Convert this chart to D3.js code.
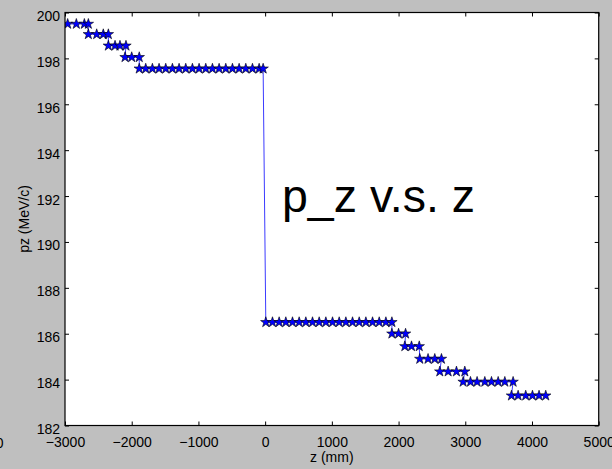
<!DOCTYPE html>
<html>
<head>
<meta charset="utf-8">
<script src="https://cdn.jsdelivr.net/npm/d3@7"></script>
<style>
  html, body { margin: 0; padding: 0; background: #bfbfbf; }
  svg { display: block; font-family: "Liberation Sans", Arial, Helvetica, sans-serif; }
</style>
</head>
<body>
<svg id="chart" width="612" height="469"></svg>
<script>
// pz level (MeV/c) of each step, and the z positions (mm) of the points on it
const pzLevels = [199.5, 199.05, 198.55, 198.05, 197.55, 186.5, 186.0, 185.45, 184.9, 184.35, 183.9, 183.3];
const zByLevel = [
  [-2960, -2830, -2710, -2650],
  [-2650, -2525, -2426, -2350],
  [-2350, -2250, -2176, -2086],
  [-2100, -2000, -1887],
  [-1887, -1790, -1690, -1590, -1490, -1390, -1290, -1190, -1090, -990, -890, -790, -690, -590, -490, -390, -290, -190, -90, -30],
  [10, 110, 210, 310, 410, 510, 610, 710, 810, 910, 1010, 1110, 1210, 1310, 1410, 1510, 1610, 1710, 1810, 1900],
  [1900, 2000, 2105],
  [2094, 2194, 2310],
  [2318, 2442, 2543, 2643],
  [2618, 2743, 2868, 2993],
  [2968, 3078, 3177, 3293, 3393, 3493, 3593, 3717],
  [3692, 3792, 3906, 4007, 4106, 4206]
];
const xTicks = [-3000, -2000, -1000, 0, 1000, 2000, 3000, 4000, 5000];
const yTicks = [182, 184, 186, 188, 190, 192, 194, 196, 198, 200];

const points = [];
zByLevel.forEach((zs, i) => zs.forEach(z => points.push({z: z, pz: pzLevels[i]})));

const svg = d3.select('#chart');
const pLeft = 65, pRight = 598.7, pTop = 12.5, pBottom = 425.5;

const x = d3.scaleLinear().domain([-3000, 5000]).range([pLeft, pRight]);
const y = d3.scaleLinear().domain([182, 200]).range([pBottom, pTop]);

// plot area
svg.append('rect')
  .attr('x', pLeft).attr('y', pTop)
  .attr('width', pRight - pLeft).attr('height', pBottom - pTop)
  .attr('fill', '#fff');

svg.append('clipPath').attr('id', 'clip')
  .append('rect')
  .attr('x', pLeft).attr('y', pTop)
  .attr('width', pRight - pLeft).attr('height', pBottom - pTop);

const plot = svg.append('g').attr('clip-path', 'url(#clip)');

const line = d3.line().x(d => x(d.z)).y(d => y(d.pz));
plot.append('path')
  .datum(points)
  .attr('d', line)
  .attr('fill', 'none')
  .attr('stroke', '#3b3bff')
  .attr('stroke-width', 1);

const star = d3.symbol().type(d3.symbolStar).size(34);
plot.selectAll('.pt')
  .data(points)
  .join('path')
  .attr('class', 'pt')
  .attr('transform', d => `translate(${x(d.z)},${y(d.pz)})`)
  .attr('d', star)
  .attr('fill', '#0000ff')
  .attr('stroke', '#000')
  .attr('stroke-width', 0.6);

// axes: inward ticks on all four sides
function styleAxis(g) {
  g.select('.domain').remove();
  g.selectAll('.tick line').attr('stroke', '#000');
  g.selectAll('text').attr('fill', '#000').attr('font-size', 14).attr('font-family', null);
}

svg.append('g')
  .attr('transform', `translate(0,${pBottom})`)
  .call(d3.axisBottom(x).tickValues(xTicks).tickSize(-4).tickFormat(d3.format('d')))
  .call(styleAxis)
  .call(g => g.selectAll('text').attr('dy', null).attr('y', 21));

svg.append('g')
  .attr('transform', `translate(0,${pTop})`)
  .call(d3.axisTop(x).tickValues(xTicks).tickSize(-4).tickFormat(''))
  .call(styleAxis);

svg.append('g')
  .attr('transform', `translate(${pLeft},0)`)
  .call(d3.axisLeft(y).tickValues(yTicks).tickSize(-4).tickFormat(d3.format('d')))
  .call(styleAxis)
  .call(g => g.selectAll('text').attr('dy', null).attr('x', -5).attr('y', 8));

svg.append('g')
  .attr('transform', `translate(${pRight},0)`)
  .call(d3.axisRight(y).tickValues(yTicks).tickSize(-4).tickFormat(''))
  .call(styleAxis);

// frame
svg.append('rect')
  .attr('x', pLeft).attr('y', pTop)
  .attr('width', pRight - pLeft).attr('height', pBottom - pTop)
  .attr('fill', 'none')
  .attr('stroke', '#000')
  .attr('stroke-width', 1.2);

// axis titles
svg.append('text')
  .attr('x', (pLeft + pRight) / 2).attr('y', 462)
  .attr('text-anchor', 'middle')
  .attr('font-size', 14)
  .text('z (mm)');

svg.append('text')
  .attr('transform', `translate(29,${(pTop + pBottom) / 2}) rotate(-90)`)
  .attr('text-anchor', 'middle')
  .attr('font-size', 14)
  .text('pz (MeV/c)');

// annotation
svg.append('text')
  .attr('x', 282).attr('y', 211.5)
  .attr('font-size', 46)
  .attr('textLength', 193)
  .attr('lengthAdjust', 'spacingAndGlyphs')
  .text('p_z v.s. z');

// clipped label at the left edge
svg.append('text')
  .attr('x', -4.2).attr('y', 448)
  .attr('font-size', 14)
  .text('0');
</script>
</body>
</html>
